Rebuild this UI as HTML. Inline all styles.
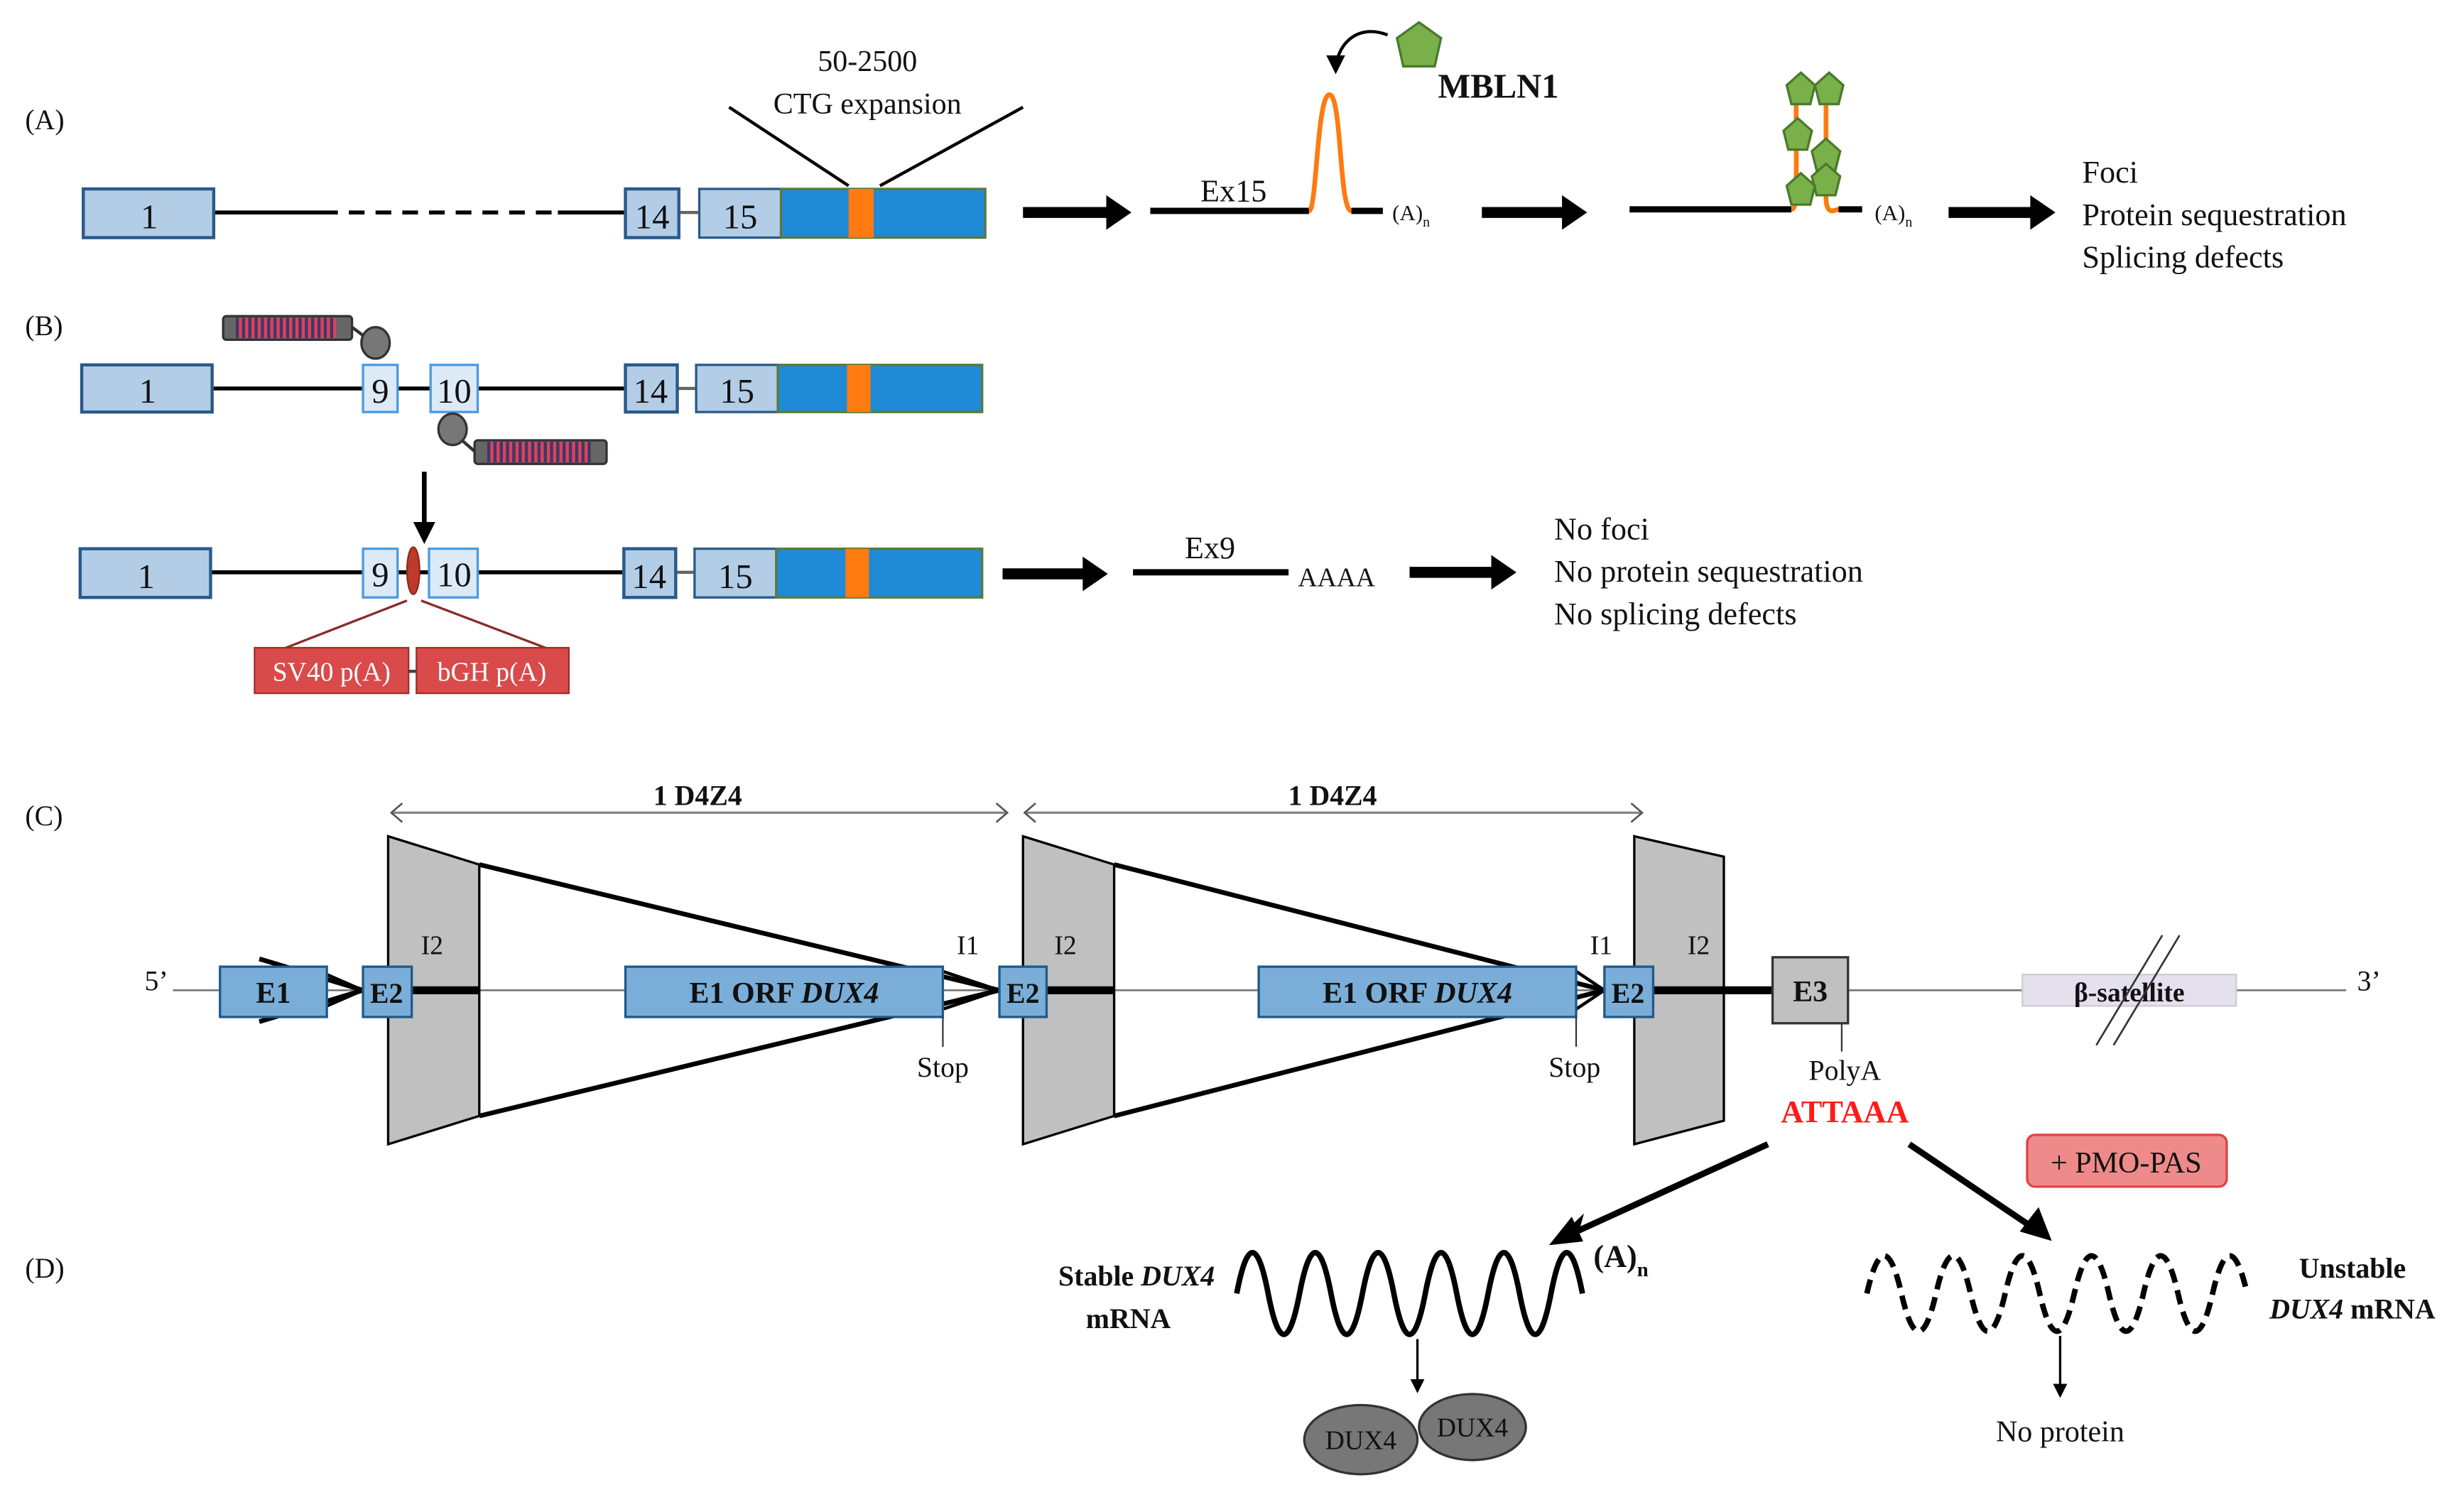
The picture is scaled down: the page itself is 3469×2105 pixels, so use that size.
<!DOCTYPE html>
<html><head><meta charset="utf-8"><style>
html,body{margin:0;padding:0;background:#fff;}
svg{display:block;font-family:"Liberation Serif","DejaVu Serif",serif;}
svg text{font-family:"Liberation Serif","DejaVu Serif",serif;fill:#111;}
</style></head><body>
<svg width="3469" height="2105" viewBox="0 0 1568 951" xmlns="http://www.w3.org/2000/svg" font-family="Liberation Serif, DejaVu Serif, serif">
<defs>
<marker id="ah" markerWidth="6" markerHeight="6" refX="5" refY="3" orient="auto" markerUnits="strokeWidth"><path d="M0,0 L6,3 L0,6 z" fill="#000"/></marker>
<pattern id="str" width="4" height="10" patternUnits="userSpaceOnUse"><rect width="4" height="10" fill="#3a3a6a"/><rect width="2" height="10" fill="#e0405a"/></pattern>
</defs>
<rect width="1568" height="951" fill="#fff"/>

<!-- (A) -->
<text x="16" y="82" font-size="18">(A)</text>
<text x="552" y="45" font-size="19" text-anchor="middle">50-2500</text>
<text x="552" y="72" font-size="19" text-anchor="middle">CTG expansion</text>
<line x1="464" y1="68" x2="540" y2="118" stroke="#000" stroke-width="2"/>
<line x1="651" y1="68" x2="560" y2="118" stroke="#000" stroke-width="2"/>
<line x1="136" y1="135" x2="205" y2="135" stroke="#000" stroke-width="2.5"/>
<line x1="205" y1="135" x2="355" y2="135" stroke="#000" stroke-width="2.5" stroke-dasharray="10,7"/>
<line x1="355" y1="135" x2="398" y2="135" stroke="#000" stroke-width="2.5"/>
<line x1="432" y1="135" x2="445" y2="135" stroke="#665" stroke-width="2"/>
<rect x="53" y="120" width="83" height="31" fill="#b3cde6" stroke="#2a5a8a" stroke-width="2"/>
<text x="95" y="145" font-size="22" text-anchor="middle">1</text>
<rect x="398" y="120" width="34" height="31" fill="#b3cde6" stroke="#2a5a8a" stroke-width="2"/>
<text x="415" y="145" font-size="22" text-anchor="middle">14</text>
<rect x="445" y="120" width="52" height="31" fill="#b3cde6" stroke="#2a5a8a" stroke-width="1.5"/>
<text x="471" y="145" font-size="22" text-anchor="middle">15</text>
<rect x="497" y="120" width="130" height="31" fill="#1f8ad6" stroke="#5a7a3a" stroke-width="1.5"/>
<rect x="540" y="120" width="16" height="31" fill="#ff7a10"/>
<line x1="651" y1="135" x2="706" y2="135" stroke="#000" stroke-width="7"/>
<polygon points="704,124 720,135 704,146" fill="#000"/>
<line x1="732" y1="134" x2="833" y2="134" stroke="#000" stroke-width="4"/>
<text x="785" y="128" font-size="20" text-anchor="middle">Ex15</text>
<path d="M833,134 C838,134 838,60 846,60 C854,60 852,134 860,134" fill="none" stroke="#ff7a10" stroke-width="3"/>
<line x1="860" y1="134" x2="880" y2="134" stroke="#000" stroke-width="4"/>
<text x="886" y="140" font-size="14">(A)<tspan font-size="9" dy="4">n</tspan></text>
<path d="M883,22 C862,14 850,30 850,45" fill="none" stroke="#000" stroke-width="2" marker-end="url(#ah)"/>
<polygon points="903,14 917,24 913,42 893,42 889,24" fill="#7ab04a" stroke="#4a7a2a" stroke-width="1.5"/>
<text x="915" y="62" font-size="22" font-weight="bold">MBLN1</text>
<line x1="943" y1="135" x2="996" y2="135" stroke="#000" stroke-width="7"/>
<polygon points="994,124 1010,135 994,146" fill="#000"/>
<line x1="1037" y1="133" x2="1140" y2="133" stroke="#000" stroke-width="4"/>
<path d="M1140,133 C1144,133 1143,120 1143,60" fill="none" stroke="#ff7a10" stroke-width="3"/>
<path d="M1162,60 L1162,125 C1162,138 1168,133 1170,133" fill="none" stroke="#ff7a10" stroke-width="3"/>
<line x1="1170" y1="133" x2="1185" y2="133" stroke="#000" stroke-width="4"/>
<g fill="#7ab04a" stroke="#4a7a2a" stroke-width="1.5">
<polygon points="1146,46 1155,54 1152,66 1140,66 1137,54"/>
<polygon points="1164,46 1173,54 1170,66 1158,66 1155,54"/>
<polygon points="1144,75 1153,83 1150,95 1138,95 1135,83"/>
<polygon points="1162,88 1171,96 1168,108 1156,108 1153,96"/>
<polygon points="1162,104 1171,112 1168,124 1156,124 1153,112"/>
<polygon points="1146,110 1155,118 1152,130 1140,130 1137,118"/>
</g>
<text x="1193" y="140" font-size="14">(A)<tspan font-size="9" dy="4">n</tspan></text>
<line x1="1240" y1="135" x2="1294" y2="135" stroke="#000" stroke-width="7"/>
<polygon points="1292,124 1308,135 1292,146" fill="#000"/>
<text x="1325" y="116" font-size="20">Foci</text>
<text x="1325" y="143" font-size="20">Protein sequestration</text>
<text x="1325" y="170" font-size="20">Splicing defects</text>

<!-- (B) -->
<text x="16" y="213" font-size="18">(B)</text>
<line x1="135" y1="247" x2="398" y2="247" stroke="#000" stroke-width="2.5"/>
<line x1="431" y1="247" x2="443" y2="247" stroke="#665" stroke-width="2"/>
<rect x="52" y="232" width="83" height="30" fill="#b3cde6" stroke="#2a5a8a" stroke-width="2"/>
<text x="94" y="256" font-size="22" text-anchor="middle">1</text>
<rect x="231" y="232" width="22" height="30" fill="#dce9f6" stroke="#4a9ae0" stroke-width="1.5"/>
<text x="242" y="256" font-size="22" text-anchor="middle">9</text>
<rect x="274" y="232" width="30" height="30" fill="#dce9f6" stroke="#4a9ae0" stroke-width="1.5"/>
<text x="289" y="256" font-size="22" text-anchor="middle">10</text>
<rect x="398" y="232" width="33" height="30" fill="#b3cde6" stroke="#2a5a8a" stroke-width="2"/>
<text x="414" y="256" font-size="22" text-anchor="middle">14</text>
<rect x="443" y="232" width="52" height="30" fill="#b3cde6" stroke="#2a5a8a" stroke-width="1.5"/>
<text x="469" y="256" font-size="22" text-anchor="middle">15</text>
<rect x="495" y="232" width="130" height="30" fill="#1f8ad6" stroke="#5a7a3a" stroke-width="1.5"/>
<rect x="539" y="232" width="15" height="30" fill="#ff7a10"/>
<rect x="142" y="201" width="82" height="15" rx="2" fill="#666" stroke="#333" stroke-width="1.5"/>
<rect x="150" y="202" width="64" height="13" fill="url(#str)"/>
<line x1="224" y1="208" x2="232" y2="214" stroke="#333" stroke-width="2"/>
<ellipse cx="239" cy="218" rx="9" ry="10" fill="#777" stroke="#333" stroke-width="1.5"/>
<ellipse cx="288" cy="273" rx="9" ry="10" fill="#777" stroke="#333" stroke-width="1.5"/>
<line x1="294" y1="280" x2="302" y2="287" stroke="#333" stroke-width="2"/>
<rect x="302" y="280" width="84" height="15" rx="2" fill="#666" stroke="#333" stroke-width="1.5"/>
<rect x="310" y="281" width="66" height="13" fill="url(#str)"/>
<line x1="270" y1="300" x2="270" y2="336" stroke="#000" stroke-width="3"/>
<polygon points="263,332 277,332 270,346" fill="#000"/>

<line x1="134" y1="364" x2="396" y2="364" stroke="#000" stroke-width="2.5"/>
<line x1="430" y1="364" x2="442" y2="364" stroke="#665" stroke-width="2"/>
<rect x="51" y="349" width="83" height="31" fill="#b3cde6" stroke="#2a5a8a" stroke-width="2"/>
<text x="93" y="374" font-size="22" text-anchor="middle">1</text>
<rect x="231" y="349" width="22" height="31" fill="#dce9f6" stroke="#4a9ae0" stroke-width="1.5"/>
<text x="242" y="373" font-size="22" text-anchor="middle">9</text>
<rect x="273" y="349" width="31" height="31" fill="#dce9f6" stroke="#4a9ae0" stroke-width="1.5"/>
<text x="289" y="373" font-size="22" text-anchor="middle">10</text>
<ellipse cx="263" cy="363" rx="4" ry="15" fill="#c0392b" stroke="#8a2a1a"/>
<rect x="397" y="349" width="33" height="31" fill="#b3cde6" stroke="#2a5a8a" stroke-width="2"/>
<text x="413" y="374" font-size="22" text-anchor="middle">14</text>
<rect x="442" y="349" width="52" height="31" fill="#b3cde6" stroke="#2a5a8a" stroke-width="1.5"/>
<text x="468" y="374" font-size="22" text-anchor="middle">15</text>
<rect x="494" y="349" width="131" height="31" fill="#1f8ad6" stroke="#5a7a3a" stroke-width="1.5"/>
<rect x="538" y="349" width="15" height="31" fill="#ff7a10"/>
<line x1="259" y1="382" x2="182" y2="412" stroke="#8a2a2a" stroke-width="1.5"/>
<line x1="268" y1="382" x2="347" y2="412" stroke="#8a2a2a" stroke-width="1.5"/>
<rect x="162" y="412" width="98" height="29" fill="#d94a4a" stroke="#a02a2a"/>
<rect x="265" y="412" width="97" height="29" fill="#d94a4a" stroke="#a02a2a"/>
<line x1="260" y1="427" x2="265" y2="427" stroke="#444" stroke-width="2"/>
<text x="211" y="433" font-size="17" text-anchor="middle" style="fill:#fff">SV40 p(A)</text>
<text x="313" y="433" font-size="17" text-anchor="middle" style="fill:#fff">bGH p(A)</text>
<line x1="638" y1="365" x2="691" y2="365" stroke="#000" stroke-width="7"/>
<polygon points="689,354 705,365 689,376" fill="#000"/>
<line x1="721" y1="364" x2="820" y2="364" stroke="#000" stroke-width="4"/>
<text x="770" y="355" font-size="20" text-anchor="middle">Ex9</text>
<text x="826" y="373" font-size="17">AAAA</text>
<line x1="897" y1="364" x2="951" y2="364" stroke="#000" stroke-width="7"/>
<polygon points="949,353 965,364 949,375" fill="#000"/>
<text x="989" y="343" font-size="20">No foci</text>
<text x="989" y="370" font-size="20">No protein sequestration</text>
<text x="989" y="397" font-size="20">No splicing defects</text>

<!-- (C) -->
<text x="16" y="525" font-size="18">(C)</text>
<line x1="249" y1="517" x2="641" y2="517" stroke="#888" stroke-width="1.5"/>
<polyline points="256,511 249,517 256,523" fill="none" stroke="#555" stroke-width="1.2"/>
<polyline points="634,511 641,517 634,523" fill="none" stroke="#555" stroke-width="1.2"/>
<text x="444" y="512" font-size="18" font-weight="bold" text-anchor="middle">1 D4Z4</text>
<line x1="652" y1="517" x2="1045" y2="517" stroke="#888" stroke-width="1.5"/>
<polyline points="659,511 652,517 659,523" fill="none" stroke="#555" stroke-width="1.2"/>
<polyline points="1038,511 1045,517 1038,523" fill="none" stroke="#555" stroke-width="1.2"/>
<text x="848" y="512" font-size="18" font-weight="bold" text-anchor="middle">1 D4Z4</text>

<line x1="110" y1="630" x2="1493" y2="630" stroke="#777" stroke-width="1.2"/>
<text x="92" y="630" font-size="18">5’</text>
<text x="1500" y="630" font-size="18">3’</text>
<polygon points="247,532 305,550 305,710 247,728" fill="#c0c0c0" stroke="#000" stroke-width="1.5"/>
<polygon points="651,532 709,550 709,710 651,728" fill="#c0c0c0" stroke="#000" stroke-width="1.5"/>
<polygon points="1040,532 1097,545 1097,713 1040,728" fill="#c0c0c0" stroke="#000" stroke-width="1.5"/>
<g stroke="#000" stroke-width="3" fill="none">
<polyline points="305,550 636,630 305,710"/>
<polyline points="709,550 1021,630 709,710"/>
<polyline points="165,610 231,630 165,650"/>
</g>
<g stroke="#000" stroke-width="2" fill="none">
<polyline points="600,618 636,630 600,642"/>
<polyline points="1003,618 1021,630 1003,642"/>
<polyline points="208,620 231,630 208,640"/>
</g>
<line x1="262" y1="630" x2="305" y2="630" stroke="#000" stroke-width="5"/>
<line x1="666" y1="630" x2="709" y2="630" stroke="#000" stroke-width="5"/>
<line x1="1052" y1="630" x2="1128" y2="630" stroke="#000" stroke-width="5"/>
<rect x="140" y="615" width="68" height="32" fill="#7aaed8" stroke="#1f5a8a" stroke-width="1.5"/>
<text x="174" y="638" font-size="19" font-weight="bold" text-anchor="middle">E1</text>
<rect x="231" y="615" width="31" height="32" fill="#7aaed8" stroke="#1f5a8a" stroke-width="1.5"/>
<text x="246" y="638" font-size="18" font-weight="bold" text-anchor="middle">E2</text>
<rect x="398" y="615" width="202" height="32" fill="#7aaed8" stroke="#1f5a8a" stroke-width="1.5"/>
<text x="499" y="638" font-size="19" font-weight="bold" text-anchor="middle">E1 ORF <tspan font-style="italic">DUX4</tspan></text>
<rect x="636" y="615" width="30" height="32" fill="#7aaed8" stroke="#1f5a8a" stroke-width="1.5"/>
<text x="651" y="638" font-size="18" font-weight="bold" text-anchor="middle">E2</text>
<rect x="801" y="615" width="202" height="32" fill="#7aaed8" stroke="#1f5a8a" stroke-width="1.5"/>
<text x="902" y="638" font-size="19" font-weight="bold" text-anchor="middle">E1 ORF <tspan font-style="italic">DUX4</tspan></text>
<rect x="1021" y="615" width="31" height="32" fill="#7aaed8" stroke="#1f5a8a" stroke-width="1.5"/>
<text x="1036" y="638" font-size="18" font-weight="bold" text-anchor="middle">E2</text>
<rect x="1128" y="609" width="48" height="42" fill="#c0c0c0" stroke="#333" stroke-width="1.5"/>
<text x="1152" y="637" font-size="19" font-weight="bold" text-anchor="middle">E3</text>
<rect x="1287" y="620" width="136" height="20" fill="#e4e0ee" stroke="#ccc"/>
<text x="1355" y="637" font-size="17" font-weight="bold" text-anchor="middle">β-satellite</text>
<line x1="1334" y1="665" x2="1376" y2="595" stroke="#333" stroke-width="1.2"/>
<line x1="1345" y1="665" x2="1387" y2="595" stroke="#333" stroke-width="1.2"/>
<text x="275" y="607" font-size="17" text-anchor="middle">I2</text>
<text x="616" y="607" font-size="17" text-anchor="middle">I1</text>
<text x="678" y="607" font-size="17" text-anchor="middle">I2</text>
<text x="1019" y="607" font-size="17" text-anchor="middle">I1</text>
<text x="1081" y="607" font-size="17" text-anchor="middle">I2</text>
<line x1="600" y1="647" x2="600" y2="666" stroke="#333"/>
<text x="600" y="685" font-size="18" text-anchor="middle">Stop</text>
<line x1="1003" y1="647" x2="1003" y2="666" stroke="#333"/>
<text x="1002" y="685" font-size="18" text-anchor="middle">Stop</text>
<line x1="1172" y1="651" x2="1172" y2="669" stroke="#333"/>
<text x="1174" y="687" font-size="18" text-anchor="middle">PolyA</text>
<text x="1174" y="714" font-size="20" font-weight="bold" text-anchor="middle" style="fill:#ff1a1a">ATTAAA</text>

<line x1="1125" y1="728" x2="1000" y2="785" stroke="#000" stroke-width="4"/>
<polygon points="988,791 1008,772 1003,790" fill="#000"/>
<polygon points="988,791 1000,776 1006,789" fill="#000" stroke="#000" stroke-width="2"/>
<line x1="1215" y1="728" x2="1295" y2="782" stroke="#000" stroke-width="4"/>
<polygon points="1304,788 1287,783 1297,770" fill="#000" stroke="#000" stroke-width="2"/>
<rect x="1290" y="722" width="127" height="33" rx="5" fill="#ee8a8a" stroke="#d44" stroke-width="1.5"/>
<text x="1353" y="746" font-size="19" text-anchor="middle">+ PMO-PAS</text>

<!-- (D) -->
<text x="16" y="813" font-size="18">(D)</text>
<text x="773" y="818" font-size="18" font-weight="bold" text-anchor="end">Stable <tspan font-style="italic">DUX4</tspan></text>
<text x="745" y="845" font-size="18" font-weight="bold" text-anchor="end">mRNA</text>
<path d="M787,823 q10,-52 20,0 t20,0 t20,0 t20,0 t20,0 t20,0 t20,0 t20,0 t20,0 t20,0 t20,0" fill="none" stroke="#000" stroke-width="3.5"/>
<text x="1014" y="806" font-size="20" font-weight="bold">(A)<tspan font-size="13" dy="6">n</tspan></text>
<line x1="902" y1="852" x2="902" y2="885" stroke="#000" stroke-width="1.5" marker-end="url(#ah)"/>
<ellipse cx="866" cy="916" rx="36" ry="22" fill="#777" stroke="#333" stroke-width="1.5"/>
<text x="866" y="922" font-size="17" text-anchor="middle">DUX4</text>
<ellipse cx="937" cy="908" rx="34" ry="21" fill="#777" stroke="#333" stroke-width="1.5"/>
<text x="937" y="914" font-size="17" text-anchor="middle">DUX4</text>
<path d="M1188,823 q11,-48 22,0 t22,0 t22,0 t22,0 t22,0 t22,0 t22,0 t22,0 t22,0 t22,0 t22,0" fill="none" stroke="#000" stroke-width="3.5" stroke-dasharray="9,5"/>
<text x="1497" y="813" font-size="18" font-weight="bold" text-anchor="middle">Unstable</text>
<text x="1497" y="839" font-size="18" font-weight="bold" text-anchor="middle"><tspan font-style="italic">DUX4</tspan> mRNA</text>
<line x1="1311" y1="850" x2="1311" y2="888" stroke="#000" stroke-width="1.5" marker-end="url(#ah)"/>
<text x="1311" y="917" font-size="19" text-anchor="middle">No protein</text>
</svg>
</body></html>
